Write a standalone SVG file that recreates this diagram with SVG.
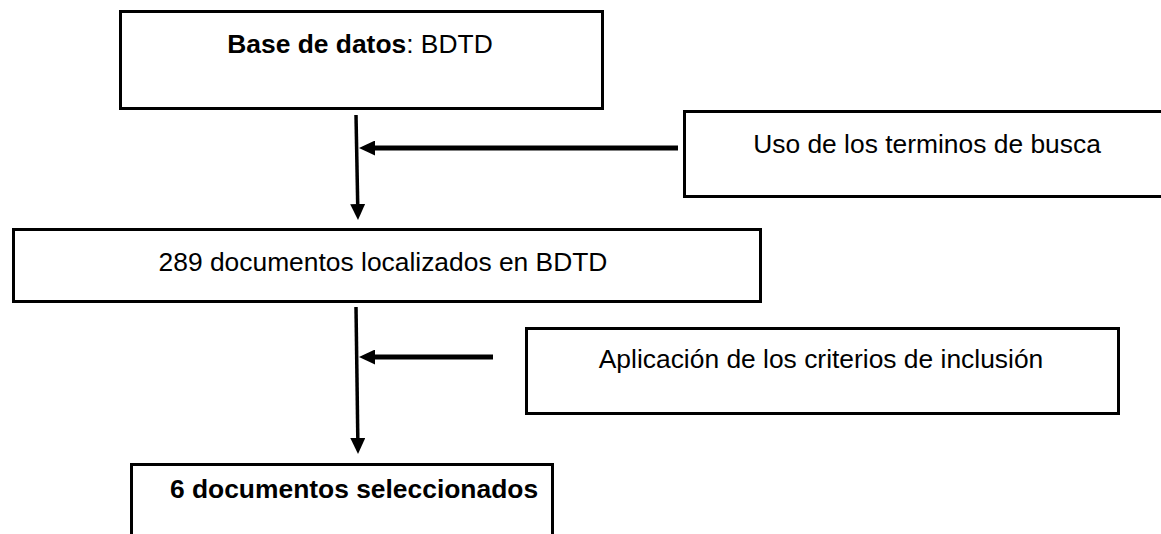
<svg xmlns="http://www.w3.org/2000/svg" width="1161" height="534" viewBox="0 0 1161 534">
  <style>
    .box { fill: #ffffff; stroke: #000000; stroke-width: 3; }
    .lbl { font-family: "Liberation Sans", Arial, sans-serif; font-size: 26.4px; fill: #000000; text-anchor: middle; }
    .b { font-weight: bold; }
    .v { stroke: #000000; stroke-width: 3.5; fill: none; }
    .h { stroke: #000000; stroke-width: 5; fill: none; }
  </style>
  <defs>
    <marker id="ah" markerUnits="userSpaceOnUse" markerWidth="16" markerHeight="15" refX="0" refY="7.5" orient="auto">
      <path d="M0,0 L16,7.5 L0,15 z" fill="#000000"/>
    </marker>
  </defs>
  <rect width="1161" height="534" fill="#ffffff"/>
  <g id="connectors">
    <line class="v" x1="356" y1="115" x2="357.7" y2="204" marker-end="url(#ah)"/>
    <line class="h" x1="678" y1="148" x2="375" y2="148" marker-end="url(#ah)"/>
    <line class="v" x1="356" y1="307" x2="357.8" y2="438" marker-end="url(#ah)"/>
    <line class="h" x1="493" y1="357" x2="375" y2="357" marker-end="url(#ah)"/>
  </g>
  <g id="node-base">
    <rect class="box" x="120.5" y="11.5" width="482" height="97"/>
    <text class="lbl" x="360" y="53"><tspan class="b">Base de datos</tspan>: BDTD</text>
  </g>
  <g id="node-uso">
    <rect class="box" x="684.5" y="111.5" width="490" height="85"/>
    <text class="lbl" x="927" y="153">Uso de los terminos de busca</text>
  </g>
  <g id="node-289">
    <rect class="box" x="13.5" y="229.5" width="747" height="72"/>
    <text class="lbl" x="383" y="271">289 documentos localizados en BDTD</text>
  </g>
  <g id="node-aplicacion">
    <rect class="box" x="526.5" y="328.5" width="592" height="85"/>
    <text class="lbl" x="821" y="368">Aplicación de los criterios de inclusión</text>
  </g>
  <g id="node-6">
    <rect class="box" x="131.5" y="464.5" width="421" height="100"/>
    <text class="lbl b" x="354" y="498">6 documentos seleccionados</text>
  </g>
</svg>
